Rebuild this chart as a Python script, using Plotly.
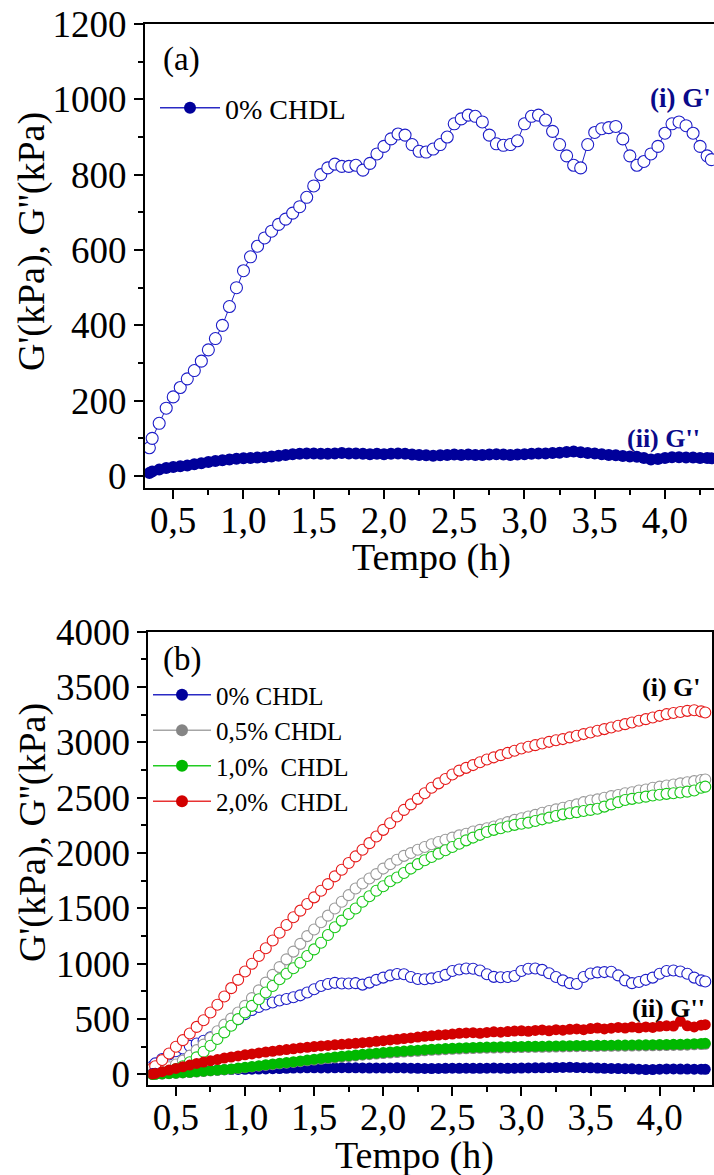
import plotly.graph_objects as go

# Sampling times (h)
tempo = [0.33, 0.35, 0.40, 0.45, 0.50, 0.55, 0.60, 0.65, 0.70, 0.75,
         0.80, 0.85, 0.90, 0.95, 1.00, 1.05, 1.10, 1.15, 1.20, 1.25,
         1.30, 1.35, 1.40, 1.45, 1.50, 1.55, 1.60, 1.65, 1.70, 1.75,
         1.80, 1.85, 1.90, 1.95, 2.00, 2.05, 2.10, 2.15, 2.20, 2.25,
         2.30, 2.35, 2.40, 2.45, 2.50, 2.55, 2.60, 2.65, 2.70, 2.75,
         2.80, 2.85, 2.90, 2.95, 3.00, 3.05, 3.10, 3.15, 3.20, 3.25,
         3.30, 3.35, 3.40, 3.45, 3.50, 3.55, 3.60, 3.65, 3.70, 3.75,
         3.80, 3.85, 3.90, 3.95, 4.00, 4.05, 4.10, 4.15, 4.20, 4.25,
         4.30, 4.33]

# G' (kPa), storage modulus
g1_0 = [75, 100, 140, 180, 210, 235, 258, 280, 305, 335,
        365, 400, 450, 500, 545, 582, 610, 632, 650, 668,
        682, 698, 715, 740, 770, 800, 818, 828, 822, 822,
        825, 812, 830, 855, 875, 895, 908, 905, 880, 862,
        860, 868, 880, 900, 935, 948, 958, 955, 940, 905,
        882, 878, 880, 890, 935, 955, 958, 945, 915, 880,
        850, 825, 818, 880, 912, 922, 925, 928, 895, 850,
        825, 835, 855, 875, 910, 935, 940, 930, 910, 875,
        850, 840]
g1_05 = [25, 30, 45, 65, 90, 125, 170, 220, 270, 330,
         390, 450, 505, 560, 620, 690, 760, 830, 900, 970,
         1040, 1110, 1180, 1250, 1310, 1375, 1435, 1500, 1560, 1620,
         1680, 1725, 1770, 1810, 1860, 1900, 1940, 1975, 2000, 2030,
         2055, 2080, 2100, 2120, 2140, 2160, 2175, 2195, 2210, 2225,
         2240, 2260, 2280, 2300, 2315, 2330, 2345, 2365, 2380, 2395,
         2410, 2425, 2440, 2460, 2475, 2485, 2500, 2515, 2525, 2540,
         2550, 2565, 2575, 2590, 2600, 2610, 2620, 2630, 2640, 2650,
         2660, 2665]
g1_10 = [5, 8, 15, 30, 50, 75, 110, 155, 205, 260,
         320, 380, 440, 500, 560, 620, 680, 740, 800, 860,
         910, 960, 1010, 1070, 1130, 1190, 1260, 1330, 1390, 1450,
         1500, 1560, 1610, 1660, 1700, 1745, 1780, 1820, 1860, 1900,
         1935, 1965, 1995, 2025, 2055, 2085, 2115, 2140, 2165, 2190,
         2210, 2225, 2240, 2255, 2265, 2275, 2290, 2305, 2320, 2335,
         2350, 2360, 2370, 2380, 2390, 2400, 2420, 2440, 2460, 2480,
         2490, 2500, 2510, 2520, 2527, 2535, 2540, 2548, 2555, 2565,
         2590, 2600]
g1_20 = [55, 75, 130, 190, 250, 310, 370, 430, 490, 560,
         630, 705, 780, 855, 930, 1000, 1070, 1140, 1210, 1280,
         1350, 1420, 1480, 1540, 1600, 1660, 1720, 1790, 1850, 1910,
         1970, 2030, 2090, 2150, 2210, 2270, 2330, 2390, 2440, 2490,
         2540, 2590, 2630, 2670, 2710, 2745, 2770, 2795, 2820, 2845,
         2865, 2885, 2905, 2925, 2945, 2960, 2975, 2990, 3005, 3020,
         3030, 3045, 3060, 3075, 3090, 3105, 3120, 3135, 3150, 3165,
         3180, 3195, 3210, 3225, 3240, 3255, 3265, 3275, 3285, 3290,
         3280, 3270]

# G'' (kPa), loss modulus
g2_0 = [8, 12, 17, 21, 24, 26, 28, 31, 34, 37,
        40, 42, 44, 46, 47, 48, 49, 50, 52, 54,
        56, 58, 59, 60, 60, 59, 59, 60, 61, 60,
        60, 59, 58, 59, 58, 59, 60, 59, 57, 56,
        55, 54, 55, 56, 57, 56, 57, 56, 56, 57,
        58, 57, 56, 57, 58, 59, 60, 60, 61, 62,
        64, 65, 63, 61, 60, 58, 56, 55, 53, 52,
        51, 48, 44, 45, 48, 50, 50, 49, 49, 48,
        48, 47]
g2_05 = [0, 1, 4, 7, 10, 14, 18, 22, 27, 32,
         37, 42, 47, 54, 61, 68, 75, 82, 89, 96,
         102, 109, 116, 123, 130, 137, 144, 150, 156, 162,
         168, 174, 179, 184, 189, 194, 198, 202, 206, 210,
         214, 218, 221, 224, 227, 230, 232, 234, 236, 238,
         239, 240, 241, 242, 243, 244, 245, 246, 247, 248,
         249, 250, 251, 252, 252, 253, 254, 255, 256, 256,
         257, 258, 258, 259, 260, 261, 262, 263, 265, 268,
         270, 272]
g2_10 = [0, 2, 5, 8, 12, 16, 20, 25, 30, 35,
         40, 45, 50, 58, 65, 72, 80, 88, 95, 102,
         108, 115, 122, 130, 138, 145, 152, 158, 165, 170,
         176, 182, 188, 192, 198, 203, 208, 212, 216, 220,
         224, 228, 231, 234, 237, 240, 242, 244, 246, 248,
         249, 250, 251, 252, 253, 254, 255, 256, 257, 258,
         259, 260, 261, 262, 262, 263, 264, 265, 266, 266,
         267, 268, 268, 269, 270, 271, 272, 273, 275, 278,
         280, 282]
g2_20 = [5, 10, 25, 40, 55, 70, 85, 100, 112, 125,
         135, 148, 158, 168, 178, 186, 195, 203, 210, 218,
         225, 232, 240, 245, 252, 258, 262, 268, 272, 277,
         282, 287, 292, 300, 305, 312, 318, 325, 330, 338,
         345, 350, 356, 360, 365, 372, 375, 378, 372, 380,
         385, 382, 388, 392, 395, 390, 398, 402, 395, 405,
         400, 408, 412, 405, 415, 420, 412, 418, 425, 420,
         428, 422, 430, 425, 435, 440, 438, 480, 440, 430,
         445, 450]

x_ticks = [0.5, 1.0, 1.5, 2.0, 2.5, 3.0, 3.5, 4.0]
x_ticktext = ["0,5", "1,0", "1,5", "2,0", "2,5", "3,0", "3,5", "4,0"]
legend_names = ["0% CHDL", "0,5% CHDL", "1,0%\u00a0 CHDL", "2,0%\u00a0 CHDL"]

FONT = "Liberation Serif, Times New Roman, Times, serif"
W, H = 714, 1175

# colours: (open outline, filled marker, legend line)
BLUE = ("#1e1ec8", "#00009a", "#2a2ac4")
GRAY = ("#999999", "#858585", "#a6a6a6")
GREEN = ("#18c818", "#00b800", "#22cc22")
RED = ("#e61a1a", "#d20000", "#e83232")


def py(p):
    return 1 - p / H


def px(p):
    return p / W


fig = go.Figure()


def open_trace(y, c, xa, ya, size):
    return go.Scatter(
        x=tempo, y=y, mode="lines+markers", xaxis=xa, yaxis=ya, showlegend=False,
        line=dict(color=c[0], width=1),
        marker=dict(symbol="circle", size=size, color="white",
                    line=dict(color=c[0], width=1.1)),
    )


def filled_trace(y, c, xa, ya, size):
    return go.Scatter(
        x=tempo, y=y, mode="lines+markers", xaxis=xa, yaxis=ya, showlegend=False,
        line=dict(color=c[1], width=6),
        marker=dict(symbol="circle", size=size, color=c[1], line=dict(width=0)),
    )


def legend_entry(c, name, legend):
    return go.Scatter(
        x=[None], y=[None], mode="lines+markers", name=name, legend=legend,
        xaxis="x", yaxis="y",
        line=dict(color=c[2], width=1.5),
        marker=dict(symbol="circle", size=12, color=c[1], line=dict(width=0)),
    )


# ---- panel (a) ----
fig.add_trace(open_trace(g1_0, BLUE, "x", "y", 12))
fig.add_trace(filled_trace(g2_0, BLUE, "x", "y", 12))
fig.add_trace(legend_entry(BLUE, legend_names[0], "legend"))

# ---- panel (b) ----
series_g1 = [g1_0, g1_05, g1_10, g1_20]
series_g2 = [g2_0, g2_05, g2_10, g2_20]
cols = [BLUE, GRAY, GREEN, RED]
for vals, c in zip(series_g1, cols):
    fig.add_trace(open_trace(vals, c, "x2", "y2", 11))
for vals, c in zip(series_g2, cols):
    fig.add_trace(filled_trace(vals, c, "x2", "y2", 11))
for c, nm in zip(cols, legend_names):
    fig.add_trace(legend_entry(c, nm, "legend2"))

axis_common = dict(
    showgrid=False, zeroline=False, showline=True, linecolor="black", linewidth=2,
    ticks="outside", tickcolor="black", tickwidth=2, ticklen=9, automargin=False,
    tickfont=dict(family=FONT, size=37, color="black"),
)
minor_common = dict(ticks="outside", ticklen=5, tickwidth=2, tickcolor="black")
x_minor = [0.75, 1.25, 1.75, 2.25, 2.75, 3.25, 3.75, 4.25]

fig.update_layout(
    width=W, height=H, margin=dict(l=0, r=0, t=0, b=0, autoexpand=False),
    paper_bgcolor="white", plot_bgcolor="white",
    xaxis=dict(domain=[px(145), 1.0], range=[0.299, 4.349], anchor="y",
               tickmode="array", tickvals=x_ticks, ticktext=x_ticktext,
               mirror=True, minor=dict(tickvals=x_minor, **minor_common),
               ticklabelstandoff=-10, **axis_common),
    yaxis=dict(domain=[py(487.7), py(24)], range=[-31, 1200], anchor="x",
               tickmode="array", tickvals=[0, 200, 400, 600, 800, 1000, 1200],
               mirror=False,
               minor=dict(tickvals=[100, 300, 500, 700, 900, 1100], **minor_common),
               **axis_common),
    xaxis2=dict(domain=[px(148.3), px(712.3)], range=[0.30, 4.381], anchor="y2",
                tickmode="array", tickvals=x_ticks, ticktext=x_ticktext,
                mirror=True, minor=dict(tickvals=x_minor, **minor_common),
                ticklabelstandoff=-10, **axis_common),
    yaxis2=dict(domain=[py(1085), py(631.7)], range=[-95, 4000], anchor="x2",
                tickmode="array",
                tickvals=[0, 500, 1000, 1500, 2000, 2500, 3000, 3500, 4000],
                mirror=True,
                minor=dict(tickvals=[250, 750, 1250, 1750, 2250, 2750, 3250, 3750],
                           **minor_common),
                **axis_common),
    legend=dict(x=px(155), y=py(83), xanchor="left", yanchor="top",
                bgcolor="rgba(0,0,0,0)", font=dict(family=FONT, size=28, color="black"),
                itemwidth=60),
    legend2=dict(x=px(148), y=py(672), xanchor="left", yanchor="top",
                 bgcolor="rgba(0,0,0,0)", font=dict(family=FONT, size=25, color="black"),
                 itemwidth=58),
)

ann = []
# axis titles
for cy in (242, 833):
    ann.append(dict(text="G'(kPa), G''(kPa)", x=px(32), y=py(cy), textangle=-90,
                    font=dict(family=FONT, size=38, color="black")))
ann.append(dict(text="Tempo (h)", x=px(432), y=py(558),
                font=dict(family=FONT, size=38, color="black")))
ann.append(dict(text="Tempo (h)", x=px(414), y=py(1155),
                font=dict(family=FONT, size=38, color="black")))
# panel labels
ann.append(dict(text="(a)", x=px(181), y=py(59), font=dict(family=FONT, size=33, color="black")))
ann.append(dict(text="(b)", x=px(182), y=py(659), font=dict(family=FONT, size=33, color="black")))
# curve labels
NAVY = "#0a0a8a"
ann.append(dict(text="<b>(i) G'</b>", x=px(648), y=py(98), xanchor="left",
                font=dict(family=FONT, size=27, color=NAVY)))
ann.append(dict(text="<b>(ii) G''</b>", x=px(625), y=py(439), xanchor="left",
                font=dict(family=FONT, size=26, color=NAVY)))
ann.append(dict(text="<b>(i) G'</b>", x=px(640), y=py(687), xanchor="left",
                font=dict(family=FONT, size=26, color="black")))
ann.append(dict(text="<b>(ii) G''</b>", x=px(630), y=py(1008), xanchor="left",
                font=dict(family=FONT, size=26, color="black")))
for a in ann:
    a.setdefault("xref", "paper")
    a.setdefault("yref", "paper")
    a.setdefault("showarrow", False)
    a.setdefault("xanchor", "center")
    a.setdefault("yanchor", "middle")
fig.update_layout(annotations=ann)

fig.write_html("out.html")
